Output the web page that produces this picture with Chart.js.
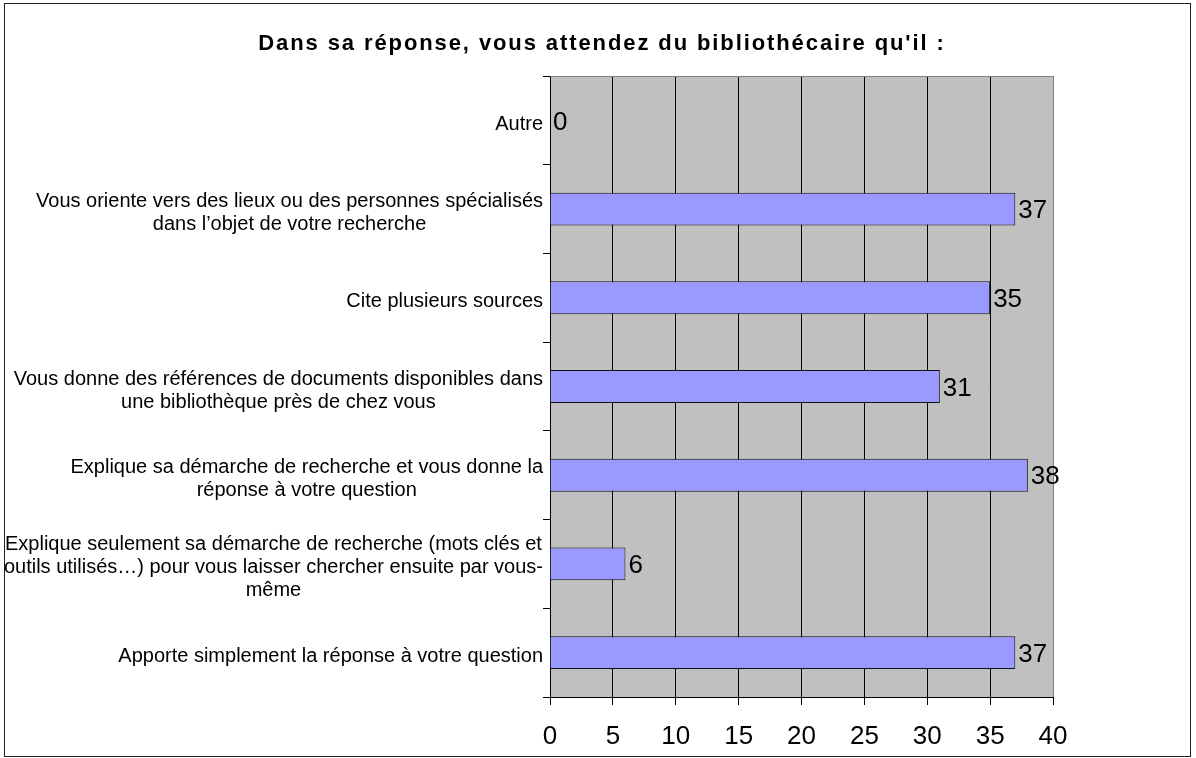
<!DOCTYPE html>
<html>
<head>
<meta charset="utf-8">
<script src="https://cdn.jsdelivr.net/npm/chart.js@4.4.0/dist/chart.umd.min.js"></script>
<style>
  body { margin: 0; background: #fff; }
  #wrap { width: 1196px; height: 758px; }
</style>
</head>
<body>
<div id="wrap"><canvas id="canvas"></canvas></div>
<script>
// question + answers
var chartTitle = "Dans sa réponse, vous attendez du bibliothécaire qu'il :";
var categories = [
    ["Autre"],
    ["Vous oriente vers des lieux ou des personnes spécialisés", "dans l\u2019objet de votre recherche"],
    ["Cite plusieurs sources"],
    ["Vous donne des références de documents disponibles dans", "une bibliothèque près de chez vous"],
    ["Explique sa démarche de recherche et vous donne la", "réponse à votre question"],
    ["Explique seulement sa démarche de recherche (mots clés et", "outils utilisés\u2026) pour vous laisser chercher ensuite par vous-", "même"],
    ["Apporte simplement la réponse à votre question"]
];
var answers = [0, 37, 35, 31, 38, 6, 37];
var xTicks = [0, 5, 10, 15, 20, 25, 30, 35, 40];

var FONT = "'Liberation Sans', Arial, sans-serif";

// gray plot background, outer frame, title, labels
var decor = {
    id: 'decor',
    beforeDraw: function (chart) {
        var ctx = chart.ctx, a = chart.chartArea;
        ctx.save();
        ctx.fillStyle = '#fff';
        ctx.fillRect(0, 0, chart.width, chart.height);
        ctx.fillStyle = '#C0C0C0';
        ctx.fillRect(a.left, a.top, a.right - a.left, a.bottom - a.top);
        ctx.restore();
    },
    afterDraw: function (chart) {
        var ctx = chart.ctx, a = chart.chartArea;
        var ys = chart.scales.y;
        ctx.save();
        // plot border top/right
        ctx.strokeStyle = '#808080';
        ctx.lineWidth = 1;
        ctx.beginPath();
        ctx.moveTo(Math.round(a.left) + 0.5, Math.round(a.top) + 0.5);
        ctx.lineTo(Math.round(a.right) + 0.5, Math.round(a.top) + 0.5);
        ctx.lineTo(Math.round(a.right) + 0.5, Math.round(a.bottom));
        ctx.stroke();
        // outer frame
        ctx.strokeStyle = '#222';
        ctx.strokeRect(4.5, 3.5, 1186, 753);
        // title
        ctx.fillStyle = '#000';
        ctx.font = 'bold 22px ' + FONT;
        ctx.letterSpacing = '1.9px';
        ctx.textAlign = 'center';
        ctx.textBaseline = 'middle';
        ctx.fillText(chartTitle, 602, 44);
        ctx.letterSpacing = '0px';
        // category labels: lines centred, block right aligned
        ctx.font = '20px ' + FONT;
        categories.forEach(function (lines, i) {
            var w = 0;
            lines.forEach(function (l) { w = Math.max(w, ctx.measureText(l).width); });
            var cx = 543 - w / 2;
            var cy = ys.getPixelForValue(i) + 4;
            lines.forEach(function (l, j) {
                ctx.fillText(l, cx, cy + (j - (lines.length - 1) / 2) * 23);
            });
        });
        // value labels
        var meta = chart.getDatasetMeta(0);
        ctx.font = '26px ' + FONT;
        ctx.textAlign = 'left';
        meta.data.forEach(function (bar, i) {
            ctx.fillText(String(answers[i]), bar.x + 3, bar.y + 2);
        });
        ctx.restore();
    }
};

var chart = new Chart(document.getElementById('canvas'), {
    type: 'bar',
    data: {
        labels: categories.map(function (c) { return c.join(' '); }),
        datasets: [{
            data: answers,
            backgroundColor: '#9999FF',
            borderColor: '#111',
            borderWidth: 1,
            barPercentage: 0.37,
            categoryPercentage: 1
        }]
    },
    options: {
        indexAxis: 'y',
        responsive: true,
        maintainAspectRatio: false,
        animation: false,
        layout: { padding: { top: 76, right: 143, bottom: 0, left: 0 } },
        plugins: {
            legend: { display: false },
            tooltip: { enabled: false },
            title: { display: false }
        },
        scales: {
            x: {
                min: 0,
                max: 40,
                afterBuildTicks: function (s) { s.ticks = xTicks.map(function (v) { return { value: v }; }); },
                afterFit: function (s) { s.height = 61; },
                ticks: { color: '#000', font: { family: FONT, size: 26 }, padding: 16, maxRotation: 0 },
                grid: {
                    color: function (c) { return c.tick && c.tick.value === 40 ? '#808080' : '#000'; },
                    tickColor: '#000',
                    tickLength: 8
                },
                border: { color: '#000' }
            },
            y: {
                afterFit: function (s) { s.width = 550; },
                ticks: { display: false },
                grid: {
                    offset: true,
                    drawOnChartArea: false,
                    color: '#000',
                    tickLength: 7
                },
                border: { color: '#000' }
            }
        }
    },
    plugins: [decor]
});
</script>
</body>
</html>
